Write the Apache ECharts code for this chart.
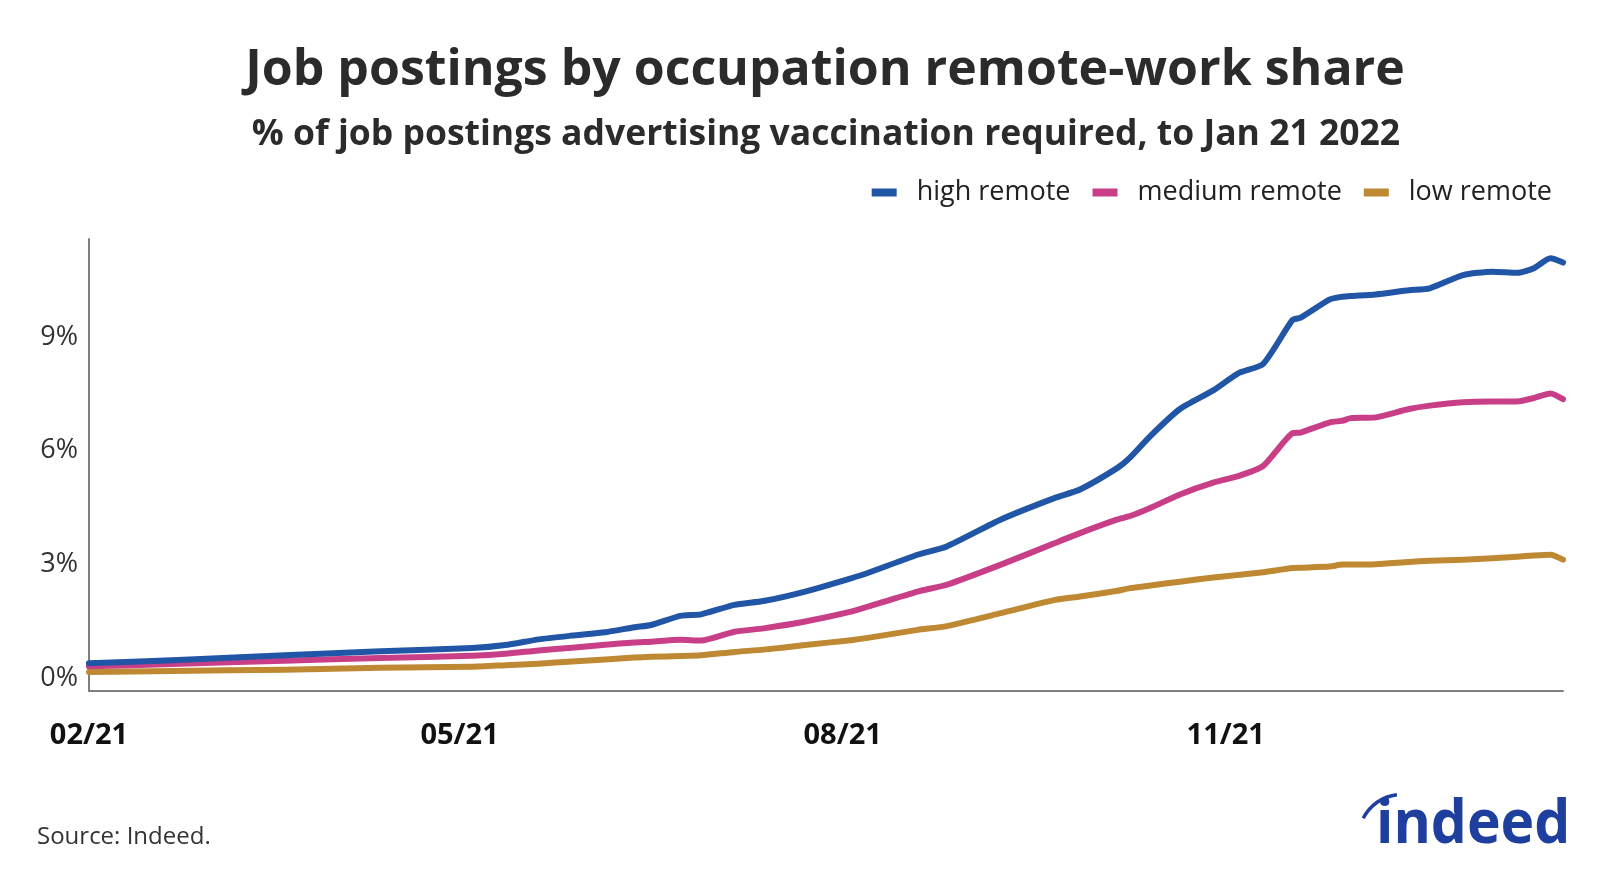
<!DOCTYPE html>
<html>
<head>
<meta charset="utf-8">
<script src="https://cdn.jsdelivr.net/npm/echarts@6/dist/echarts.min.js"></script>
<style>
html,body{margin:0;padding:0;background:#fff;}
#chart{width:1600px;height:873px;}
</style>
</head>
<body>
<div id="chart"></div>
<script>
// ---- data ----
const dates = ['2021-02-01','2021-02-21','2021-03-20','2021-04-12','2021-05-04','2021-05-12','2021-05-20','2021-05-28','2021-06-05','2021-06-12','2021-06-16','2021-06-23','2021-06-28','2021-07-06','2021-07-13','2021-07-23','2021-08-03','2021-08-07','2021-08-19','2021-08-26','2021-09-08','2021-09-21','2021-09-27','2021-10-06','2021-10-09','2021-10-14','2021-10-21','2021-10-29','2021-11-04','2021-11-10','2021-11-17','2021-11-19','2021-11-26','2021-11-29','2021-12-01','2021-12-07','2021-12-15','2021-12-20','2021-12-28','2022-01-04','2022-01-10','2022-01-14','2022-01-18','2022-01-21'];
const highRemote = [0.40,0.48,0.61,0.72,0.80,0.88,1.03,1.13,1.22,1.35,1.41,1.65,1.69,1.94,2.04,2.29,2.64,2.78,3.26,3.48,4.19,4.76,4.98,5.55,5.82,6.40,7.10,7.59,8.04,8.29,9.44,9.51,9.99,10.06,10.08,10.12,10.23,10.28,10.63,10.72,10.69,10.81,11.07,10.96];
const mediumRemote = [0.32,0.38,0.47,0.54,0.60,0.65,0.74,0.81,0.89,0.95,0.97,1.02,1.00,1.23,1.32,1.50,1.76,1.89,2.29,2.47,3.00,3.57,3.83,4.19,4.28,4.50,4.85,5.16,5.33,5.60,6.46,6.48,6.75,6.79,6.86,6.88,7.10,7.19,7.28,7.30,7.30,7.39,7.51,7.36];
const lowRemote = [0.17,0.20,0.23,0.28,0.31,0.35,0.39,0.45,0.50,0.55,0.57,0.59,0.61,0.70,0.76,0.88,1.01,1.07,1.28,1.38,1.72,2.07,2.16,2.31,2.38,2.45,2.55,2.66,2.73,2.80,2.91,2.92,2.95,3.00,3.00,3.01,3.07,3.10,3.13,3.17,3.21,3.24,3.26,3.13];
const seriesNames = ['high remote','medium remote','low remote'];
const yTicks = [0,3,6,9];
const xTickDates = ['2021-02-01','2021-05-01','2021-08-01','2021-11-01'];
const xMin = '2021-02-01', xMax = '2022-01-21';
const titleText = 'Job postings by occupation remote-work share';
const subtitleText = '% of job postings advertising vaccination required, to Jan 21 2022';
const sourceText = 'Source: Indeed.';

const colors = ['#2156A7','#C83F88','#BF8933'];
const logoBlue = '#1F3F9F';
const DAY = 86400000;
function utc(s){const p=s.split('-').map(Number);return Date.UTC(p[0],p[1]-1,p[2]);}
function dayOf(s){return Math.round((utc(s)-utc(xMin))/DAY);}
function pairs(vals){return dates.map((d,i)=>[dayOf(d),vals[i]]);}
const xTickDays = xTickDates.map(dayOf);

const chart = echarts.init(document.getElementById('chart'));
const font = '"Open Sans", "Noto Sans", sans-serif';
chart.setOption({
  animation:false,
  backgroundColor:'#fff',
  textStyle:{fontFamily:font},
  legend:{
    right:43,top:174,icon:'rect',itemWidth:25,itemHeight:8,itemGap:22,
    data:seriesNames,
    textStyle:{fontFamily:font,fontSize:27,color:'#222',padding:[0,0,0,15]}
  },
  grid:{left:89,right:37,top:239,bottom:182,containLabel:false},
  xAxis:{
    type:'value',min:0,max:dayOf(xMax),
    axisLine:{show:true,onZero:false,lineStyle:{color:'#7f7f7f',width:2}},
    axisTick:{show:false},
    splitLine:{show:false},
    axisLabel:{
      customValues:xTickDays,
      margin:30,
      fontFamily:font,fontSize:29,fontWeight:'bold',color:'#111',
      formatter:function(v){const d=new Date(utc(xMin)+v*DAY);const m=d.getUTCMonth()+1;return (m<10?'0':'')+m+'/'+String(d.getUTCFullYear()).slice(2);}
    }
  },
  yAxis:{
    type:'value',min:-0.33,max:11.58,
    axisLine:{show:true,lineStyle:{color:'#7f7f7f',width:2}},
    axisTick:{show:false},
    splitLine:{show:false},
    axisLabel:{customValues:yTicks,margin:11,fontFamily:font,fontSize:27,color:'#333',formatter:v=>v+'%'}
  },
  series:[highRemote,mediumRemote,lowRemote].map((v,i)=>({
    name:seriesNames[i],type:'line',data:pairs(v),showSymbol:false,smooth:0.2,
    lineStyle:{width:6,color:colors[i],cap:'round',join:'round'},itemStyle:{color:colors[i]},
    z:10-i
  })),
  graphic:[
    {type:'text',x:825,y:70.5,style:{text:titleText,font:'bold 50px "Open Sans", sans-serif',fill:'#2b2b2b',align:'center',verticalAlign:'middle'}},
    {type:'text',x:826,y:135,style:{text:subtitleText,font:'bold 35.5px "Open Sans", sans-serif',fill:'#2b2b2b',align:'center',verticalAlign:'middle'}},
    {type:'text',x:37,y:837,style:{text:sourceText,font:'24px "Open Sans", sans-serif',fill:'#333',verticalAlign:'middle'}},
    {type:'text',x:1376,y:796,scaleX:0.95,style:{text:'indeed',font:'bold 60px "Open Sans", sans-serif',fill:logoBlue}},
    {type:'arc',shape:{cx:1402,cy:838,r:43.5,startAngle:Math.PI*1.15,endAngle:Math.PI*1.463,clockwise:true},style:{stroke:logoBlue,lineWidth:3.5,fill:null}}
  ]
});
</script>
</body>
</html>
